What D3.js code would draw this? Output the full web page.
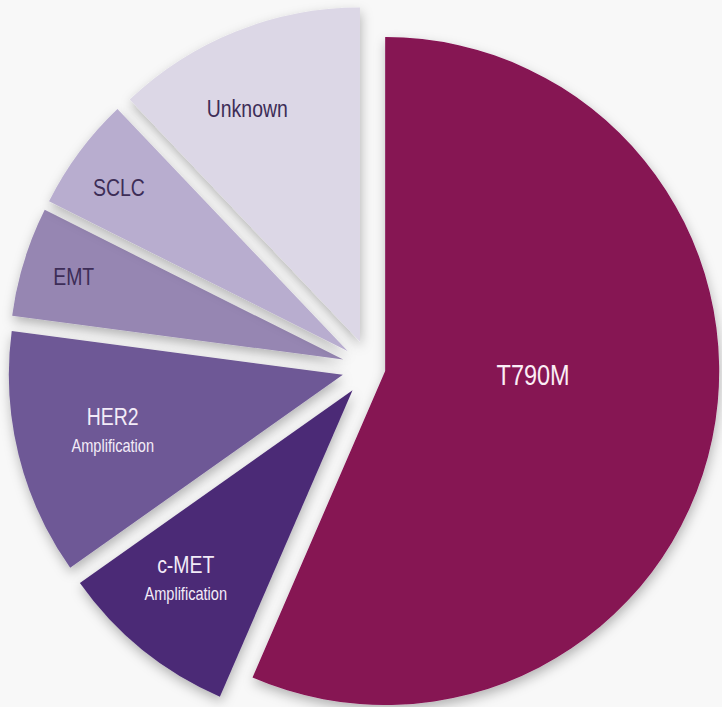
<!DOCTYPE html>
<html>
<head>
<meta charset="utf-8">
<script src="https://cdn.jsdelivr.net/npm/d3@7/dist/d3.min.js"></script>
<style>
  html, body { margin: 0; padding: 0; background: #f8f8f8; }
  svg { display: block; }
  text { font-family: "Liberation Sans", Arial, sans-serif; }
</style>
</head>
<body>
<svg id="chart" width="722" height="707"></svg>
<script>
// Resistance mechanisms (share of cases, %)
const categories = ["T790M", "c-MET", "HER2", "EMT", "SCLC", "Unknown"];
const subLabels  = ["", "Amplification", "Amplification", "", "", ""];
const shares     = [56.5, 8.7, 11.9, 5.3, 5.5, 12.1];

const colors = {
  "T790M":   "#861253",
  "c-MET":   "#4b2b76",
  "HER2":    "#6e5896",
  "EMT":     "#9686b2",
  "SCLC":    "#b8adcf",
  "Unknown": "#dcd7e6"
};
const textColors = {
  "T790M": "#fbeef6", "c-MET": "#f3ecf8", "HER2": "#f3ecf8",
  "EMT": "#3d2d57", "SCLC": "#3d2d57", "Unknown": "#3d2d57"
};
// how far each slice is pulled out from the centre
const explode = { "T790M": 15, "c-MET": 28.5, "HER2": 28.5, "EMT": 28.5, "SCLC": 28.5, "Unknown": 28.5 };
// label placement: distance from the slice tip and angular nudge (degrees)
const labelPos = {
  "T790M":   { r: 148, da: -10.3, size: 29 },
  "c-MET":   { r: 249, da: 3,   size: 24 },
  "HER2":    { r: 236, da: 1,   size: 24 },
  "EMT":     { r: 282, da: 0,   size: 24 },
  "SCLC":    { r: 281, da: -1,  size: 24 },
  "Unknown": { r: 259, da: -4,  size: 24 }
};

const svg = d3.select("#chart");
const cx = 370.5, cy = 368, radius = 334;

const defs = svg.append("defs");
const f = defs.append("filter").attr("id", "shadow")
  .attr("x", "-20%").attr("y", "-20%").attr("width", "140%").attr("height", "140%");
f.append("feDropShadow").attr("dx", 1).attr("dy", 5)
  .attr("stdDeviation", 6).attr("flood-color", "#000").attr("flood-opacity", 0.28);

const data = categories.map((c, i) => ({ name: c, sub: subLabels[i], value: shares[i] }));

const pie = d3.pie().value(d => d.value).sort(null).startAngle(0).endAngle(2 * Math.PI);
const arc = d3.arc().innerRadius(0).outerRadius(radius);
const arcs = pie(data);

const g = svg.append("g").attr("transform", `translate(${cx},${cy})`);

const slice = g.selectAll("g.slice").data(arcs).join("g")
  .attr("class", "slice")
  .attr("transform", d => {
    const a = (d.startAngle + d.endAngle) / 2;
    const o = explode[d.data.name];
    return `translate(${o * Math.sin(a)},${-o * Math.cos(a)})`;
  });

slice.append("path")
  .attr("d", arc)
  .attr("fill", d => colors[d.data.name])
  .attr("filter", "url(#shadow)");

// labels, horizontally condensed
slice.each(function(d) {
  const lp = labelPos[d.data.name];
  const a = (d.startAngle + d.endAngle) / 2 + lp.da * Math.PI / 180;
  const x = lp.r * Math.sin(a), y = -lp.r * Math.cos(a);
  const t = d3.select(this).append("g")
    .attr("transform", `translate(${x},${y}) scale(0.81,1)`)
    .attr("fill", textColors[d.data.name])
    .attr("text-anchor", "middle");
  if (d.data.sub) {
    t.append("text").attr("y", -2).attr("font-size", lp.size).text(d.data.name);
    t.append("text").attr("y", 25).attr("font-size", 18).text(d.data.sub);
  } else {
    t.append("text").attr("y", lp.size * 0.36).attr("font-size", lp.size).text(d.data.name);
  }
});
</script>
</body>
</html>
